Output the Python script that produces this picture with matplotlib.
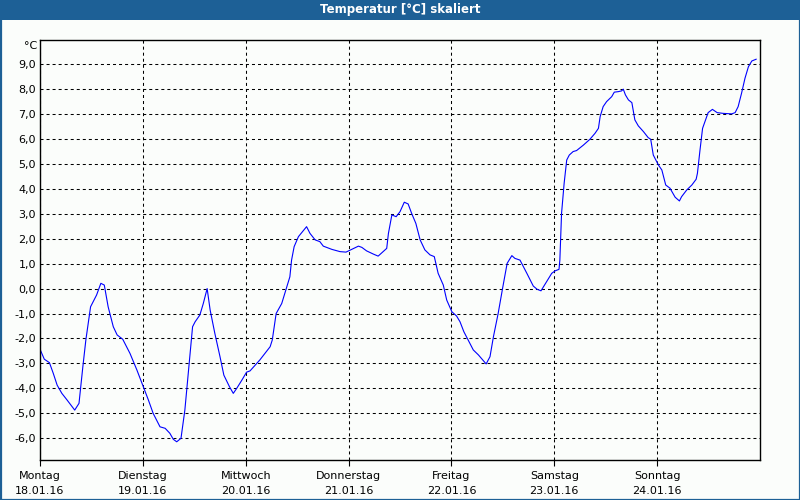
import matplotlib
matplotlib.use("Agg")
import matplotlib.pyplot as plt
from matplotlib.patches import Rectangle

# Data: hours since Monday 18.01.16 00:00, temperature in °C
hours = [0.0, 1.0, 2.2, 3.1, 4.0, 5.1, 6.2, 8.1, 9.1, 10.0, 10.7, 11.8, 13.2, 14.2, 15.0,
         15.9, 17.1, 18.0, 19.3, 21.0, 22.6, 24.1, 25.3, 26.4, 28.0, 29.2, 30.3, 31.1, 31.9,
         32.9, 33.8, 34.6, 35.6, 36.2, 37.3, 38.1, 39.0, 39.7, 40.8, 42.0, 42.9, 44.2, 45.1,
         45.9, 47.1, 48.2, 49.0, 51.3, 53.7, 54.2, 55.1, 56.4, 57.6, 58.3, 58.7, 59.3, 60.3,
         61.4, 62.2, 63.0, 64.2, 65.3, 66.1, 68.1, 70.0, 71.4, 73.1, 74.3, 75.1, 76.2, 77.8,
         78.9, 80.9, 81.3, 82.1, 83.1, 84.0, 85.0, 85.9, 86.7, 87.7, 88.7, 89.8, 91.0, 92.0,
         92.9, 94.1, 94.9, 96.1, 97.2, 98.0, 98.9, 99.9, 101.1, 102.3, 104.1, 105.0, 105.8,
         106.9, 108.0, 109.0, 110.1, 110.8, 112.0, 113.6, 115.1, 116.0, 116.9, 118.2, 119.4,
         120.2, 121.1, 121.3, 121.7, 122.3, 122.9, 123.5, 124.4, 125.2, 126.8, 128.3, 129.5,
         130.3, 130.7, 131.4, 132.2, 133.4, 134.0, 134.9, 135.7, 136.1, 136.6, 137.3, 138.1,
         138.8, 139.6, 140.8, 141.9, 142.5, 143.1, 144.3, 145.1, 146.0, 147.0, 148.2, 149.2,
         149.7, 150.9, 152.1, 153.1, 153.4, 154.0, 154.6, 155.2, 155.9, 156.9, 158.0, 159.4,
         161.4, 162.2, 162.9, 163.7, 164.5, 165.3, 166.1, 167.1]
temps = [-2.43, -2.83, -2.97, -3.4, -3.87, -4.2, -4.44, -4.87, -4.6, -3.13, -2.06, -0.73,
         -0.26, 0.21, 0.14, -0.73, -1.53, -1.86, -2.03, -2.6, -3.26, -3.93, -4.47, -5.0,
         -5.54, -5.6, -5.8, -6.04, -6.14, -6.0, -4.87, -3.4, -1.53, -1.33, -1.06, -0.6, 0.0,
         -0.86, -1.8, -2.73, -3.47, -3.93, -4.2, -4.0, -3.67, -3.35, -3.3, -2.86, -2.33,
         -2.06, -1.0, -0.6, 0.07, 0.47, 1.14, 1.68, 2.08, 2.31, 2.48, 2.21, 1.95, 1.88, 1.7,
         1.57, 1.48, 1.46, 1.6, 1.7, 1.65, 1.51, 1.38, 1.3, 1.61, 2.21, 2.95, 2.88, 3.08,
         3.46, 3.39, 3.02, 2.61, 1.95, 1.55, 1.35, 1.28, 0.61, 0.14, -0.46, -0.93, -1.1,
         -1.33, -1.73, -2.06, -2.46, -2.66, -3.02, -2.73, -1.93, -1.0, 0.07, 1.01, 1.32,
         1.21, 1.14, 0.61, 0.1, -0.03, -0.09, 0.27, 0.61, 0.71, 0.77, 1.14, 3.02, 4.22, 5.15,
         5.35, 5.49, 5.53, 5.75, 5.98, 6.22, 6.42, 6.89, 7.29, 7.49, 7.69, 7.87, 7.89, 7.92,
         7.99, 7.76, 7.56, 7.45, 6.76, 6.52, 6.29, 6.05, 5.98, 5.35, 4.95, 4.75, 4.15, 4.02,
         3.66, 3.51, 3.68, 3.95, 4.15, 4.38, 4.62, 5.55, 6.42, 6.71, 7.05, 7.18, 7.05, 7.02,
         7.0, 7.05, 7.29, 7.83, 8.43, 8.89, 9.12, 9.19]

day_names = ["Montag", "Dienstag", "Mittwoch", "Donnerstag", "Freitag", "Samstag", "Sonntag"]
day_dates = ["18.01.16", "19.01.16", "20.01.16", "21.01.16", "22.01.16", "23.01.16", "24.01.16"]
y_ticks = [-6, -5, -4, -3, -2, -1, 0, 1, 2, 3, 4, 5, 6, 7, 8, 9]

plt.rcParams['font.family'] = ['DejaVu Sans']
bg = '#fbfdfb'
fig = plt.figure(figsize=(8, 5), dpi=100, facecolor=bg)

# title bar and border
fig.patches.append(Rectangle((0, 1 - 20/500), 1, 20/500, transform=fig.transFigure,
                             facecolor='#1d6096', edgecolor='none', zorder=0))
fig.patches.append(Rectangle((0.5/800, 0.5/500), 1 - 1/800, 1 - 1/500, transform=fig.transFigure,
                             facecolor='none', edgecolor='#1d6096', linewidth=1.6, zorder=0))
fig.text(0.5, 1 - 10/500, "Temperatur [°C] skaliert", color='white', fontsize=8.5,
         fontweight='bold', ha='center', va='center')

ax = fig.add_axes([40/800, 40/500, 720/800, 420/500])
ax.set_facecolor(bg)
ax.plot(hours, temps, color='#0000ff', linewidth=0.8)

ax.set_xlim(0, 168)
ax.set_ylim(-6.87, 9.96)

ax.set_yticks(y_ticks)
ax.set_yticklabels([f"{v:.1f}".replace('.', ',') for v in y_ticks], fontsize=8)
ax.set_xticks([24 * i for i in range(7)])
ax.set_xticklabels([f"{n}\n{d}" for n, d in zip(day_names, day_dates)], fontsize=8,
                   linespacing=1.55)
ax.tick_params(axis='y', length=0, pad=3)
ax.tick_params(axis='x', length=4, width=0.8, pad=4, direction='out')

ax.grid(True, color='black', linewidth=0.75, linestyle=(0, (2.9, 2.9)))
for s in ax.spines.values():
    s.set_linewidth(1.0)
    s.set_color('black')

fig.text(37/800, 1 - 46/500, "°C", fontsize=8, ha='right', va='center')

fig.savefig("out.png", dpi=100, facecolor=bg)
